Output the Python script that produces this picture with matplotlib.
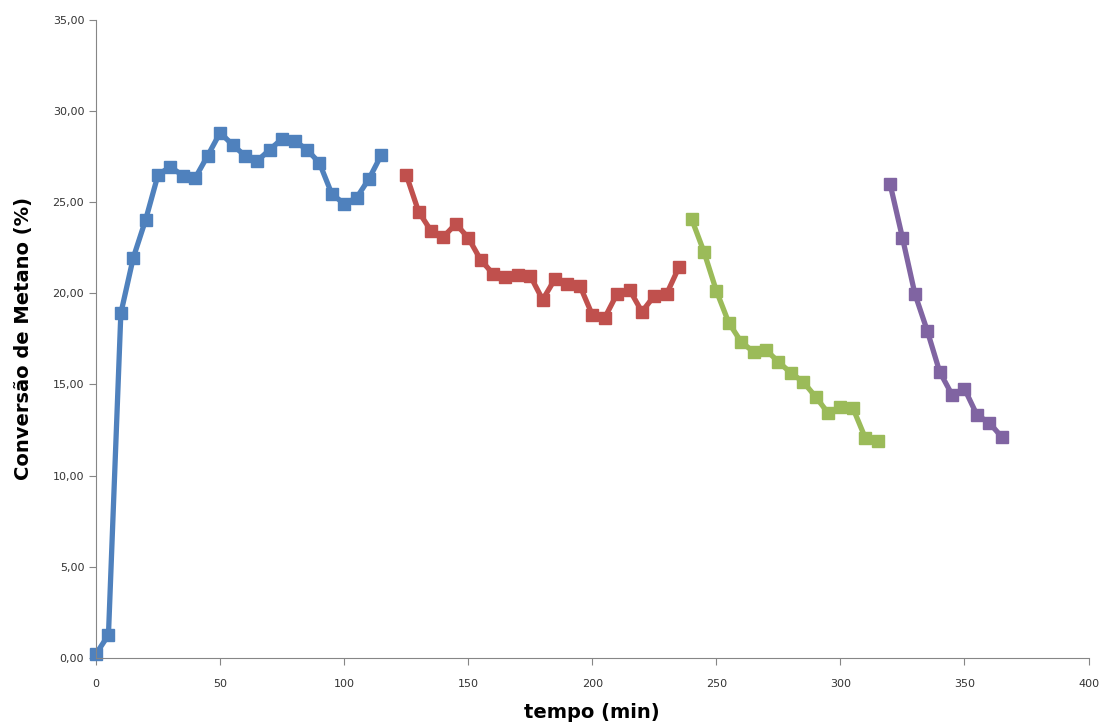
from matplotlib import pyplot as plt
from matplotlib.ticker import FuncFormatter

# tempo (min) e conversao (%) para cada etapa
t1 = [0, 5, 10, 15, 20, 25, 30, 35, 40, 45, 50, 55, 60, 65, 70, 75, 80, 85, 90, 95, 100, 105, 110, 115]
c1 = [0.22, 1.26, 18.9, 21.94, 24.03, 26.5, 26.93, 26.44, 26.33, 27.54, 28.8, 28.14, 27.54, 27.26,
      27.87, 28.47, 28.36, 27.87, 27.15, 25.45, 24.9, 25.23, 26.27, 27.59]

t2 = [125, 130, 135, 140, 145, 150, 155, 160, 165, 170, 175, 180, 185, 190, 195, 200, 205, 210,
      215, 220, 225, 230, 235]
c2 = [26.5, 24.47, 23.42, 23.09, 23.8, 23.04, 21.83, 21.06, 20.9, 21.01, 20.95, 19.64, 20.79,
      20.52, 20.41, 18.81, 18.65, 19.97, 20.19, 18.98, 19.86, 19.97, 21.45]

t3 = [240, 245, 250, 255, 260, 265, 270, 275, 280, 285, 290, 295, 300, 305, 310, 315]
c3 = [24.08, 22.27, 20.13, 18.38, 17.33, 16.78, 16.89, 16.24, 15.63, 15.14, 14.32, 13.44, 13.77,
      13.71, 12.07, 11.9]

t4 = [320, 325, 330, 335, 340, 345, 350, 355, 360, 365]
c4 = [26.0, 23.04, 19.97, 17.94, 15.69, 14.43, 14.76, 13.33, 12.89, 12.12]

cores = ['#4F81BD', '#C0504D', '#9BBB59', '#8064A2']

fig = plt.figure(figsize=(11.04, 7.27), dpi=100)
ax = fig.add_axes([0.087, 0.095, 0.899, 0.878])

for t, c, cor in zip([t1, t2, t3, t4], [c1, c2, c3, c4], cores):
    ax.plot(t, c, '-s', color=cor, lw=3.8, markersize=8.5, clip_on=False)

ax.set_xlim(0, 400)
ax.set_ylim(0, 35)
ax.set_xticks(range(0, 401, 50))
ax.set_yticks([0, 5, 10, 15, 20, 25, 30, 35])
ax.yaxis.set_major_formatter(FuncFormatter(lambda v, p: f'{v:.2f}'.replace('.', ',')))

for s in ['top', 'right']:
    ax.spines[s].set_visible(False)
for s in ['left', 'bottom']:
    ax.spines[s].set_color('#868686')
ax.tick_params(colors='#868686', labelcolor='#333333', labelsize=8, length=5, direction='out')
ax.tick_params(axis='x', pad=10)

ax.set_xlabel('tempo (min)', fontsize=14, fontweight='bold', labelpad=10)
ax.set_ylabel('Conversão de Metano (%)', fontsize=14, fontweight='bold', labelpad=14)

fig.savefig('out.png', dpi=100)
